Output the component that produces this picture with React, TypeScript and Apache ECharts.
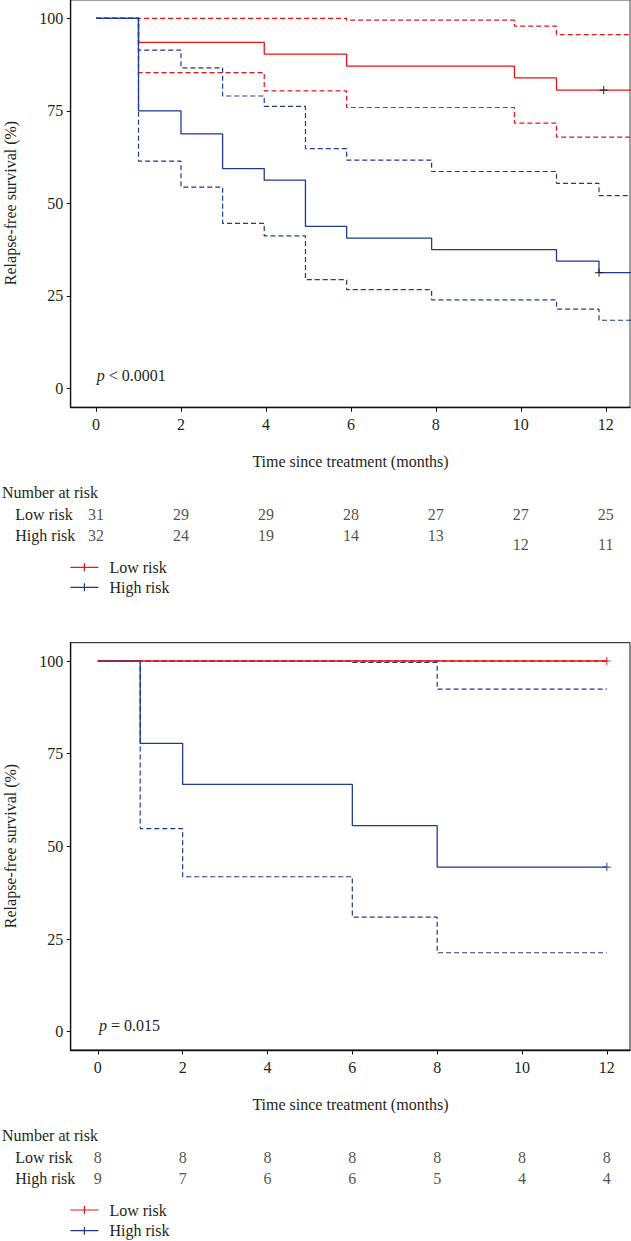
import React, { useEffect, useRef } from "react";
import * as echarts from "echarts";

// ---------- data ----------
// Top panel (training cohort)
const lowTimesA = [0, 1, 3.96, 5.9, 9.85, 10.84, 12.6];
const lowSurvA = [100, 93.5, 90.3, 87.1, 83.9, 80.6, 80.6];
const lowUpperA = [100, 100, 100, 99.5, 97.9, 95.6, 95.6];
const lowLowerA = [100, 85.3, 80.4, 75.9, 71.7, 67.9, 67.9];
const highTimesA = [0, 1, 2, 2.98, 3.96, 4.93, 5.9, 7.9, 10.84, 11.84, 12.6];
const highSurvA = [100, 75, 68.75, 59.4, 56.25, 43.75, 40.6, 37.5, 34.4, 31.25, 31.25];
const highUpperA = [100, 91.4, 86.6, 79.0, 76.2, 64.8, 61.7, 58.6, 55.4, 52.1, 52.1];
const highLowerA = [100, 61.4, 54.4, 44.6, 41.2, 29.4, 26.7, 23.9, 21.4, 18.4, 18.4];
const lowCensorA = [[11.95, 80.6]];
const highCensorA = [[11.84, 31.25]];

// Bottom panel (validation cohort)
const lowTimesB = [0, 12];
const lowSurvB = [100, 100];
const lowUpperB = [100, 100];
const lowLowerB = [100, 100];
const highTimesB = [0, 1, 2, 6, 8, 12];
const highSurvB = [100, 77.8, 66.7, 55.6, 44.4, 44.4];
const highUpperB = [100, 100, 100, 99.6, 92.4, 92.4];
const highLowerB = [100, 54.8, 41.8, 30.9, 21.3, 21.3];
const lowCensorB = [[12, 100]];
const highCensorB = [[12, 44.4]];

// Number at risk tables
const atRiskTimes = [0, 2, 4, 6, 8, 10, 12];
const topLowAtRisk = [31, 29, 29, 28, 27, 27, 25];
const topHighAtRisk = [32, 24, 19, 14, 13, 12, 11];
const bottomLowAtRisk = [8, 8, 8, 8, 8, 8, 8];
const bottomHighAtRisk = [9, 7, 6, 6, 5, 4, 4];

const xTicks = [0, 2, 4, 6, 8, 10, 12];
const yTicks = [0, 25, 50, 75, 100];
const rowNames = ["Low risk", "High risk"];
const pTop = "{i|p} < 0.0001";
const pBottom = "{i|p} = 0.015";
const yTitle = "Relapse-free survival (%)";
const xTitle = "Time since treatment (months)";

// ---------- styles ----------
const FONT = "Liberation Serif";
const TEXT = "#231f20";
const RED = "#e8141b";
const BLUE = "#1f3a8e";
const FS = 16;

const pairs = (t: number[], v: number[]) => t.map((x, i) => [x, v[i]]);

const PLUS = "path://M3.4,0L4.6,0L4.6,8L3.4,8Z M0,3.4L8,3.4L8,4.6L0,4.6Z";
const LEGEND_ICON = "path://M0,3.4L28,3.4L28,4.6L0,4.6Z M13.4,0L14.6,0L14.6,8L13.4,8Z";

function curve(name: string, t: number[], v: number[], color: string, dashed: boolean, idx: number, z: number) {
  return {
    type: "line",
    name,
    xAxisIndex: idx,
    yAxisIndex: idx,
    data: pairs(t, v),
    step: "end",
    symbol: "none",
    clip: true,
    silent: true,
    z,
    itemStyle: { color },
    lineStyle: { color, width: dashed ? 1.2 : 1.3, type: dashed ? [5, 3] : "solid" },
  };
}

function censor(name: string, data: number[][], color: string, idx: number) {
  return {
    type: "scatter",
    name,
    xAxisIndex: idx,
    yAxisIndex: idx,
    data,
    symbol: PLUS,
    symbolSize: 8,
    silent: true,
    z: 10,
    itemStyle: { color },
  };
}

function riskRow(idx: number, row: string, values: number[], lowered: number[] = []) {
  return {
    type: "scatter",
    name: "at risk " + row + idx,
    xAxisIndex: idx,
    yAxisIndex: idx,
    symbolSize: 1,
    silent: true,
    itemStyle: { color: "rgba(0,0,0,0)" },
    label: {
      show: true,
      position: "inside",
      formatter: (p: any) => String(p.value[2]),
      fontFamily: FONT,
      fontSize: FS,
      color: TEXT,
    },
    data: atRiskTimes.map((t, i) => {
      const item: any = { value: [t, row, values[i]] };
      if (lowered.includes(i)) item.label = { offset: [0, 9] };
      return item;
    }),
  };
}

const PLOT_LEFT = 70.7;
const PLOT_W = 559.3;
const PLOT_H = 407.3;

function chartX(min: number, max: number, idx: number) {
  return {
    type: "value",
    gridIndex: idx,
    min,
    max,
    splitLine: { show: false },
    axisLine: { show: true, onZero: false, lineStyle: { color: "#111", width: 1.3 } },
    axisTick: { show: true, customValues: xTicks, length: 4.5, lineStyle: { color: "#111", width: 1 } },
    axisLabel: { customValues: xTicks, margin: 9, fontFamily: FONT, fontSize: FS, color: TEXT, lineHeight: 16 },
  };
}
function chartY(min: number, max: number, idx: number) {
  return {
    type: "value",
    gridIndex: idx,
    min,
    max,
    splitLine: { show: false },
    axisLine: { show: true, onZero: false, lineStyle: { color: "#111", width: 1.3 } },
    axisTick: { show: true, customValues: yTicks, length: 4, lineStyle: { color: "#111", width: 1 } },
    axisLabel: { customValues: yTicks, margin: 7.4, fontFamily: FONT, fontSize: FS, color: TEXT },
  };
}
function tableX(min: number, max: number, idx: number) {
  return { type: "value", gridIndex: idx, min, max, show: false };
}
function tableY(idx: number) {
  return {
    type: "category",
    gridIndex: idx,
    data: rowNames,
    inverse: true,
    axisLine: { show: false },
    axisTick: { show: false },
    splitLine: { show: false },
    axisLabel: { align: "left", margin: 55.4, fontFamily: FONT, fontSize: FS, color: TEXT },
  };
}

function txt(text: string, x: number, y: number, extra: any = {}, rotation = 0) {
  return {
    type: "text",
    x,
    y,
    rotation,
    silent: true,
    style: {
      text,
      fontFamily: FONT,
      fontSize: FS,
      fill: TEXT,
      align: "left",
      verticalAlign: "middle",
      rich: { i: { fontStyle: "italic", fontFamily: FONT, fontSize: FS, fill: TEXT } },
      ...extra,
    },
  };
}

function legendAt(top: number, gap: number) {
  return {
    orient: "vertical",
    left: 70.4,
    top,
    padding: 0,
    itemWidth: 28,
    itemHeight: 8,
    itemGap: gap,
    selectedMode: false,
    icon: LEGEND_ICON,
    data: rowNames,
    textStyle: { fontFamily: FONT, fontSize: FS, color: TEXT, lineHeight: 16, padding: [0, 0, 0, 6] },
  };
}

export default function App() {
  const ref = useRef<HTMLDivElement>(null);
  useEffect(() => {
    document.body.style.overflow = "hidden";
    const chart = echarts.init(ref.current!, null, { renderer: "svg" });
    const option: any = {
      animation: false,
      backgroundColor: "#ffffff",
      grid: [
        { left: PLOT_LEFT, top: 0, width: PLOT_W, height: PLOT_H, show: true, borderColor: "#444", borderWidth: 1 },
        { left: PLOT_LEFT, top: 642.7, width: PLOT_W, height: PLOT_H, show: true, borderColor: "#111", borderWidth: 1 },
        { left: PLOT_LEFT, top: 503.8, width: PLOT_W, height: 42 },
        { left: PLOT_LEFT, top: 1146.8, width: PLOT_W, height: 42 },
      ],
      xAxis: [
        chartX(-0.596, 12.57, 0),
        chartX(-0.639, 12.546, 1),
        tableX(-0.596, 12.57, 2),
        tableX(-0.639, 12.546, 3),
      ],
      yAxis: [chartY(-5.12, 104.95, 0), chartY(-4.94, 104.94, 1), tableY(2), tableY(3)],
      legend: [legendAt(559.3, 4), legendAt(1202, 4.7)],
      series: [
        // top panel
        curve("Low risk upper", lowTimesA, lowUpperA, RED, true, 0, 2),
        curve("Low risk lower", lowTimesA, lowLowerA, RED, true, 0, 2),
        curve("High risk upper", highTimesA, highUpperA, BLUE, true, 0, 2),
        curve("High risk lower", highTimesA, highLowerA, BLUE, true, 0, 2),
        curve("Low risk", lowTimesA, lowSurvA, RED, false, 0, 3),
        curve("High risk", highTimesA, highSurvA, BLUE, false, 0, 4),
        censor("Low risk censored", lowCensorA, "#1a1a1a", 0),
        censor("High risk censored", highCensorA, "#1a1a1a", 0),
        // bottom panel
        curve("Low risk B", lowTimesB, lowSurvB, RED, false, 1, 2),
        curve("High risk B", highTimesB, highSurvB, BLUE, false, 1, 3),
        curve("High risk upper B", highTimesB, highUpperB, BLUE, true, 1, 4),
        curve("High risk lower B", highTimesB, highLowerB, BLUE, true, 1, 4),
        curve("Low risk upper B", lowTimesB, lowUpperB, RED, true, 1, 5),
        curve("Low risk lower B", lowTimesB, lowLowerB, RED, true, 1, 5),
        censor("Low risk censored B", lowCensorB, RED, 1),
        censor("High risk censored B", highCensorB, BLUE, 1),
        // risk tables
        riskRow(2, "Low risk", topLowAtRisk),
        riskRow(2, "High risk", topHighAtRisk, [5, 6]),
        riskRow(3, "Low risk", bottomLowAtRisk),
        riskRow(3, "High risk", bottomHighAtRisk),
      ],
      graphic: {
        elements: [
          txt(yTitle, 10, 203, { align: "center" }, Math.PI / 2),
          txt(yTitle, 10, 846, { align: "center" }, Math.PI / 2),
          txt(xTitle, 350.5, 461, { align: "center" }),
          txt(xTitle, 350.5, 1104, { align: "center" }),
          txt("Number at risk", 2, 492.7),
          txt("Number at risk", 2, 1135),
          txt(pTop, 96.7, 375),
          txt(pBottom, 99, 1025),
        ],
      },
    };
    chart.setOption(option);
    return () => chart.dispose();
  }, []);
  return <div ref={ref} style={{ position: "absolute", left: 0, top: 0, width: 631, height: 1241 }} />;
}
